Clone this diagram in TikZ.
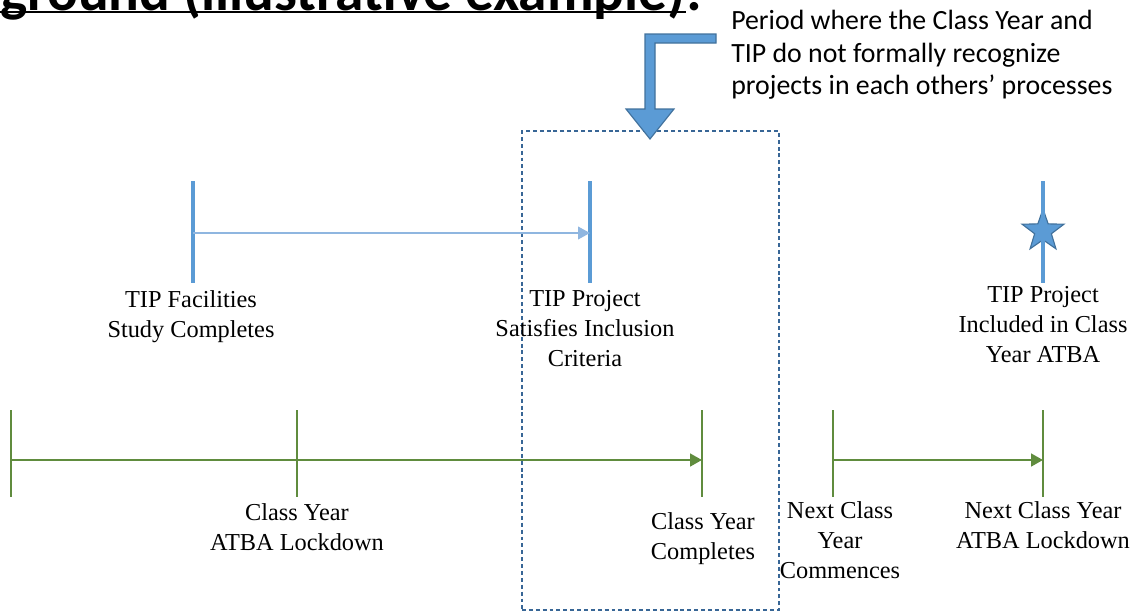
\documentclass[tikz,border=0pt]{standalone}
\usepackage{fontspec}
\setmainfont{Liberation Serif}
\newfontfamily\notefont{Carlito}
\usepackage{xcolor}
\usetikzlibrary{arrows.meta,shapes.geometric}
\definecolor{tipblue}{RGB}{91,155,213}
\definecolor{tipline}{RGB}{143,182,224}
\definecolor{tipedge}{RGB}{65,113,156}
\definecolor{cygreen}{RGB}{96,140,62}
\definecolor{boxblue}{RGB}{56,102,150}

\begin{document}
\begin{tikzpicture}[x=0.025cm, y=-0.025cm,
		tiptick/.style={tipblue, line width=2.3pt},
		cytick/.style={cygreen, line width=1.5pt},
		tiparrow/.style={tipline, line width=1.2pt, -{Triangle[length=8.5pt,width=9pt]}},
		cyarrow/.style={cygreen, line width=1.8pt, -{Triangle[length=8.5pt,width=9pt]}},
		event/.style={anchor=north, align=center, inner sep=0pt, font=\fontsize{17.3}{21.3}\selectfont},
		blockarrow/.style={fill=tipblue, draw=tipedge, line width=0.8pt, line join=miter},
		gapbox/.style={draw=boxblue, line width=1.5pt, dash pattern=on 2.8pt off 2.1pt, minimum width=182.8pt, minimum height=340.7pt, inner sep=0pt}]
			\useasboundingbox (0,0) rectangle (1137,614);
			\clip (0,0) rectangle (1137,614);
			%{\draw[help lines, step=50] (0,0) grid (1137,614);}
			{\node (title) [anchor=base west, inner sep=0pt, font=\notefont\bfseries\fontsize{40.8}{48}\selectfont] at (0,10) {ground (illustrative example)};}
			{\node (colon) [anchor=base west, inner sep=0pt, font=\notefont\bfseries\fontsize{40.8}{48}\selectfont] at (title.base east) {:};}
			{\draw[line width=1.6pt] ([yshift=-1.5pt]title.base west) -- ([yshift=-1.5pt]title.base east);}
			{\node (note) [anchor=north west, align=left, inner sep=0pt, font=\notefont\fontsize{19.8}{23.1}\selectfont] at (731,10) {Period where the Class Year and\\TIP do not formally recognize\\projects in each others’ processes};}
			{\node (gap) [gapbox] at (650.5,370.5) {};}
			{\node (star) [star, star points=5, star point ratio=2.5, minimum size=31.3pt, inner sep=0pt, fill=tipblue, draw=tipedge, line width=0.8pt] at (1043,231) {};}
			{\foreach \n/\x in {tipA/193, tipB/590, tipC/1043} {\coordinate (\n) at (\x,233); \draw[tiptick] (\x,181) -- (\x,283);}}
			{\foreach \n/\x in {cyA/11, cyB/297, cyC/702, cyD/833, cyE/1043} {\coordinate (\n) at (\x,460); \draw[cytick] (\x,410) -- (\x,497);}}
			{\draw[tiparrow] (tipA) -- (tipB);}
			{\draw[cyarrow] (cyA) -- (cyC);}
			{\draw[cyarrow] (cyD) -- (cyE);}
			{\coordinate (bendtip) at (650,139);}
			{\filldraw[blockarrow] (bendtip) -- ++(-24,-30) -- ++(19,0) -- ++(0,-75) -- ++(71,0) -- ++(0,9) -- ++(-61,0) -- ++(0,66) -- ++(19,0) -- cycle;}
			{\node[event] (tipstudy) at (191,290) {TIP Facilities\\Study Completes};}
			{\node[event] (tipcrit) at (585,290) {TIP Project\\Satisfies Inclusion\\Criteria};}
			{\node[event] (tipincl) at (1043,286) {TIP Project\\Included in Class\\Year ATBA};}
			{\node[event] (cylock) at (297,503) {Class Year\\ATBA Lockdown};}
			{\node[event] (cydone) at (703,512) {Class Year\\Completes};}
			{\node[event] (nextstart) at (840,501) {Next Class\\Year\\Commences};}
			{\node[event] (nextlock) at (1043,501) {Next Class Year\\ATBA Lockdown};}
		\end{tikzpicture}
\end{document}
